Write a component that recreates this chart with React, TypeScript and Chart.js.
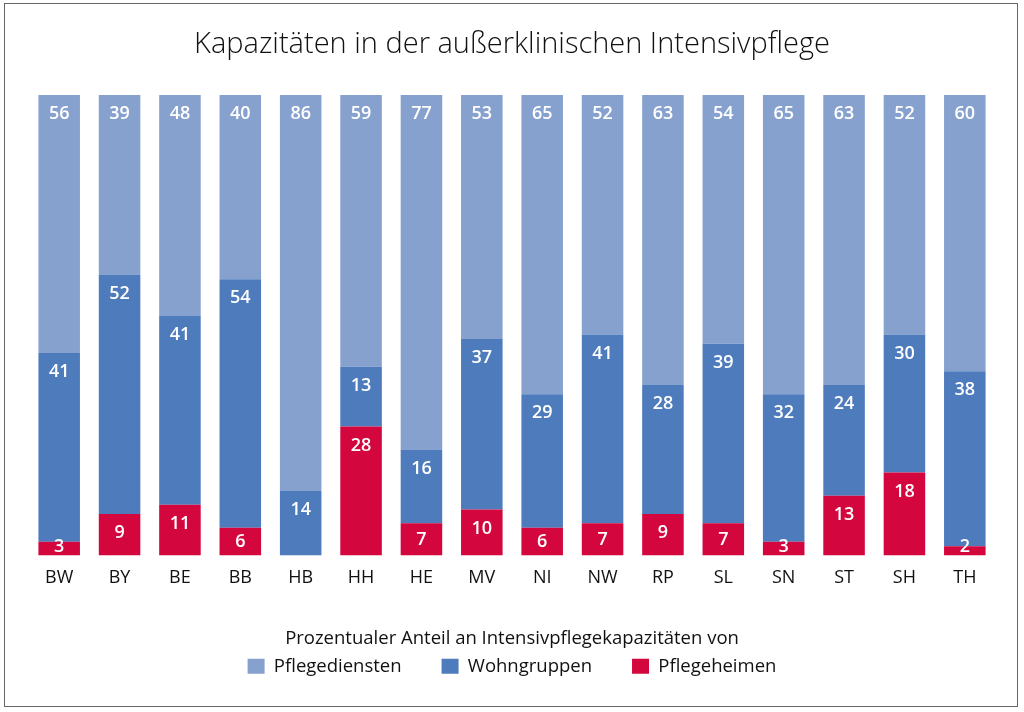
import React, { useEffect, useRef } from "react";
import { Chart, registerables } from "chart.js";

Chart.register(...registerables);

const categories = ["BW", "BY", "BE", "BB", "HB", "HH", "HE", "MV", "NI", "NW", "RP", "SL", "SN", "ST", "SH", "TH"];
const pflegeheimen = [3, 9, 11, 6, 0, 28, 7, 10, 6, 7, 9, 7, 3, 13, 18, 2];
const wohngruppen = [41, 52, 41, 54, 14, 13, 16, 37, 29, 41, 28, 39, 32, 24, 30, 38];
const pflegediensten = [56, 39, 48, 40, 86, 59, 77, 53, 65, 52, 63, 54, 65, 63, 52, 60];

const titleText = "Kapazitäten in der außerklinischen Intensivpflege";
const legendTitle = "Prozentualer Anteil an Intensivpflegekapazitäten von";
const seriesNames = ["Pflegediensten", "Wohngruppen", "Pflegeheimen"];

const FONT = "'Open Sans', 'DejaVu Sans', sans-serif";

const valueLabels = {
  id: "valueLabels",
  afterDatasetsDraw(chart: any) {
    const ctx = chart.ctx;
    ctx.save();
    ctx.fillStyle = "#ffffff";
    ctx.font = `600 18px ${FONT}`;
    ctx.textAlign = "center";
    ctx.textBaseline = "middle";
    chart.data.datasets.forEach((ds: any, di: number) => {
      const meta = chart.getDatasetMeta(di);
      meta.data.forEach((el: any, i: number) => {
        const v = ds.data[i];
        if (!v) return;
        const top = Math.min(el.y, el.base);
        const bottom = Math.max(el.y, el.base);
        const y = Math.min((top + bottom) / 2, top + 19, bottom - 9);
        ctx.fillText(String(v), el.x, y);
      });
    });
    ctx.restore();
  },
};

export default function App() {
  const ref = useRef<HTMLCanvasElement | null>(null);
  useEffect(() => {
    if (!ref.current) return;
    const chart = new Chart(ref.current, {
      type: "bar",
      data: {
        labels: categories,
        datasets: [
          { label: seriesNames[0], data: pflegediensten, backgroundColor: "#87a1cf", order: 3 },
          { label: seriesNames[1], data: wohngruppen, backgroundColor: "#4e7bbb", order: 2 },
          { label: seriesNames[2], data: pflegeheimen, backgroundColor: "#d3063d", order: 1 },
        ],
      },
      options: {
        responsive: false,
        animation: false,
        devicePixelRatio: 1,
        layout: { padding: { left: 29, right: 29, top: 0, bottom: 26.5 } },
        datasets: { bar: { categoryPercentage: 1, barPercentage: 0.688, borderWidth: 0 } },
        scales: {
          x: {
            stacked: true,
            grid: { display: false, drawTicks: false },
            border: { display: false },
            ticks: { color: "#111", font: { family: FONT, size: 18 }, padding: 12, maxRotation: 0 },
            afterFit: (scale: any) => {
              scale.height = 73.5;
            },
          },
          y: {
            stacked: true,
            display: false,
            min: 0,
            max: 100,
          },
        },
        plugins: {
          tooltip: { enabled: false },
          title: {
            display: true,
            text: titleText,
            color: "#111",
            font: { family: FONT, size: 29, weight: "300" as any, lineHeight: 1.2 },
            padding: { top: 27.6, bottom: 32.6 },
          },
          legend: {
            position: "bottom",
            title: {
              display: true,
              text: legendTitle,
              color: "#111",
              font: { family: FONT, size: 18.5, lineHeight: 1.2 },
              padding: { top: 0, bottom: -34.2 },
            },
            labels: {
              color: "#111",
              font: { family: FONT, size: 18.5 },
              boxWidth: 17,
              boxHeight: 15,
              padding: 40,
              sort: (a: any, b: any) => a.datasetIndex - b.datasetIndex,
            },
          },
        },
      },
      plugins: [valueLabels],
    });
    return () => chart.destroy();
  }, []);

  return (
    <div style={{ position: "absolute", left: 0, top: 0, width: 1024, height: 712, background: "#fff" }}>
      <canvas ref={ref} width={1024} height={712} style={{ position: "absolute", left: 0, top: 0, width: 1024, height: 712 }} />
      <div
        style={{
          position: "absolute",
          left: 4,
          top: 3,
          width: 1014,
          height: 704,
          border: "1.5px solid #666",
          boxSizing: "border-box",
          pointerEvents: "none",
        }}
      />
    </div>
  );
}
